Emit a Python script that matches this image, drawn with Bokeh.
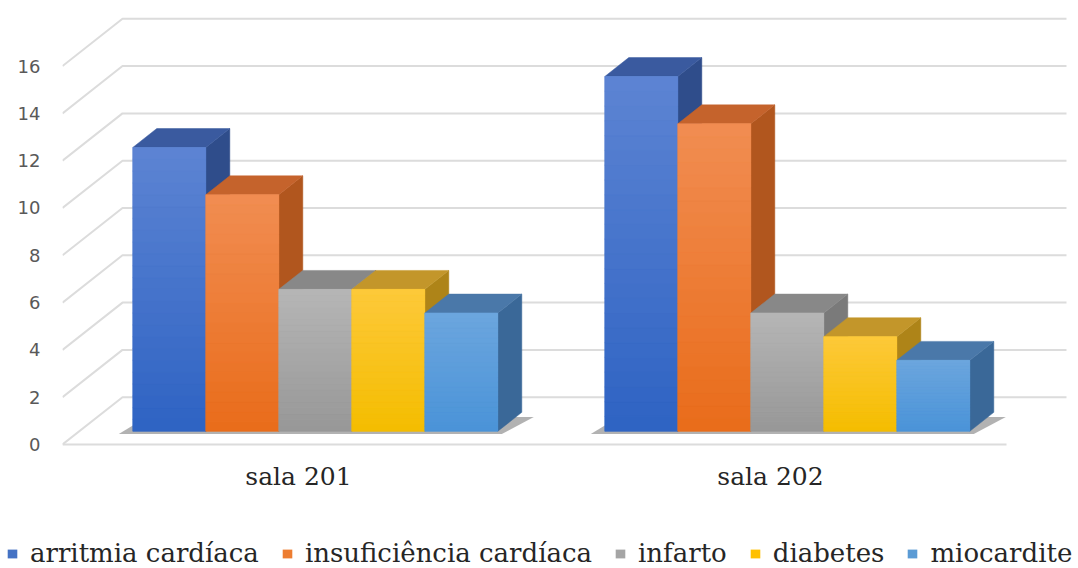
from bokeh.plotting import figure
from bokeh.layouts import column
from bokeh.models import Range1d, FixedTicker, Legend, LegendItem
from bokeh.embed import file_html
from bokeh.resources import INLINE

# ---------------- data ----------------
categories = ["sala 201", "sala 202"]
series = ["arritmia cardíaca", "insuficiência cardíaca", "infarto", "diabetes", "miocardite"]
arritmia = [12, 15]
insuficiencia = [10, 13]
infarto = [6, 5]
diabetes = [6, 4]
miocardite = [5, 3]
values = [arritmia, insuficiencia, infarto, diabetes, miocardite]
y_ticks = [0, 2, 4, 6, 8, 10, 12, 14, 16]

# ---------------- style ----------------
legend_colors = ["#4472C4", "#ED7D31", "#A5A5A5", "#FFC000", "#5B9BD5"]
front_top = ["#5d84d3", "#f18d52", "#b6b6b6", "#fdc93a", "#6ca6de"]
front_bottom = ["#2e63c3", "#e96c1a", "#979797", "#f4bd00", "#4a93d8"]
top_colors = ["#3a5a9f", "#c5632c", "#888888", "#c3962a", "#4a78a9"]
side_colors = ["#2f4d8b", "#b1561e", "#7a7a7a", "#ae8418", "#3a6898"]

FLOOR_W = 944          # width of the floor's front edge (x units = px)
DEPTH_DX = 60          # oblique depth of the floor, x
DEPTH_DY = 2.0         # oblique depth of the floor, value units
BACK_END = FLOOR_W + DEPTH_DX
BAR_W = 73
FRONT_FRAC = 0.28      # bars start this far back on the floor
BAR_FRAC = 0.40        # bar depth as a fraction of floor depth
N_STRIPS = 24

n_cat = len(categories)
n_ser = len(series)
cat_w = FLOOR_W / n_cat
centers = [int(cat_w * (i + 0.5)) for i in range(n_cat)]
off_dx = DEPTH_DX * FRONT_FRAC
off_dy = DEPTH_DY * FRONT_FRAC
bdx = DEPTH_DX * BAR_FRAC
bdy = DEPTH_DY * BAR_FRAC


def hex_to_rgb(h):
    h = h.lstrip("#")
    return tuple(int(h[k:k + 2], 16) for k in (0, 2, 4))


def mix(c1, c2, t):
    a, b = hex_to_rgb(c1), hex_to_rgb(c2)
    return "#%02x%02x%02x" % tuple(round(a[k] + (b[k] - a[k]) * t) for k in range(3))


p = figure(width=1078, height=510,
           x_range=Range1d(0, 1016), y_range=Range1d(-0.465, 18.35),
           output_backend="svg", toolbar_location=None,
           min_border_left=62, min_border_right=0, min_border_top=10, min_border_bottom=55)
p.outline_line_color = None
p.grid.visible = False
p.background_fill_color = "white"
p.frame_align = False

# ---- gridlines: side wall diagonals + back wall horizontals ----
gx, gy = [], []
for t in y_ticks:
    gx.append([0, DEPTH_DX, BACK_END])
    gy.append([t, t + DEPTH_DY, t + DEPTH_DY])
gx.append([0, FLOOR_W])
gy.append([0, 0])
p.multi_line(gx, gy, line_color="#dcdcdc", line_width=2)

# ---- soft shadows on the floor under each group ----
for i in range(n_cat):
    gl = centers[i] - n_ser * BAR_W / 2 + off_dx
    gr = gl + n_ser * BAR_W
    p.patch([gl - 14, gr + 4, gr + bdx + 12, gl + bdx - 10],
            [off_dy - 0.12, off_dy - 0.12, off_dy + bdy - 0.2, off_dy + bdy - 0.2],
            fill_color="#555555", fill_alpha=0.45, line_color=None)

# ---- 3D bars ----
for j in range(n_ser):
    vals = values[j]
    lefts = [centers[i] - n_ser * BAR_W / 2 + j * BAR_W + off_dx for i in range(n_cat)]
    rights = [l + BAR_W for l in lefts]
    bottoms = [off_dy] * n_cat
    tops = [v + off_dy for v in vals]

    # side faces
    p.patches([[r, r, r + bdx, r + bdx] for r in rights],
              [[b, t, t + bdy, b + bdy] for b, t in zip(bottoms, tops)],
              fill_color=side_colors[j], line_color=side_colors[j], line_width=0.5)
    # top faces
    p.patches([[l, r, r + bdx, l + bdx] for l, r in zip(lefts, rights)],
              [[t, t, t + bdy, t + bdy] for t in tops],
              fill_color=top_colors[j], line_color=top_colors[j], line_width=0.5)
    # front faces (solid base)
    p.quad(left=lefts, right=rights, bottom=bottoms, top=tops,
           fill_color=legend_colors[j], line_color=None)
    # vertical gradient on front faces
    sl, sr, sb, st, sc = [], [], [], [], []
    for i in range(n_cat):
        h = tops[i] - bottoms[i]
        for k in range(N_STRIPS):
            sl.append(lefts[i])
            sr.append(rights[i])
            sb.append(bottoms[i] + h * k / N_STRIPS)
            st.append(bottoms[i] + h * (k + 1) / N_STRIPS)
            sc.append(mix(front_bottom[j], front_top[j], (k + 0.5) / N_STRIPS))
    p.quad(left=sl, right=sr, bottom=sb, top=st, fill_color=sc, line_color=sc, line_width=0.6)

# ---- axes ----
p.yaxis.ticker = FixedTicker(ticks=y_ticks)
p.yaxis.axis_line_color = None
p.yaxis.major_tick_line_color = None
p.yaxis.minor_tick_line_color = None
p.yaxis.major_tick_out = 0
p.yaxis.major_label_standoff = 22
p.yaxis.major_label_text_font = "DejaVu Sans"
p.yaxis.major_label_text_font_size = "18px"
p.yaxis.major_label_text_color = "#595959"

p.xaxis.ticker = FixedTicker(ticks=centers)
p.xaxis.major_label_overrides = {c: name for c, name in zip(centers, categories)}
p.xaxis.axis_line_color = None
p.xaxis.major_tick_line_color = None
p.xaxis.minor_tick_line_color = None
p.xaxis.major_tick_out = 0
p.xaxis.major_label_standoff = 6
p.xaxis.major_label_text_font = "DejaVu Serif"
p.xaxis.major_label_text_font_size = "25px"
p.xaxis.major_label_text_color = "#262626"

# ---- legend strip (separate figure below the chart) ----
lp = figure(width=1078, height=58, x_range=Range1d(0, 1), y_range=Range1d(0, 1),
            output_backend="svg", toolbar_location=None,
            x_axis_location=None, y_axis_location=None,
            min_border_left=0, min_border_right=0, min_border_top=0, min_border_bottom=0)
lp.outline_line_color = None
lp.grid.visible = False
lp.frame_align = False
legend_items = []
for j in range(n_ser):
    # swatch renderer (its data lies outside the visible range; only the legend shows it)
    r = lp.quad(left=[5], right=[6], bottom=[5], top=[6],
                fill_color=legend_colors[j], line_color=None)
    legend_items.append(LegendItem(label=series[j], renderers=[r]))
legend = Legend(items=legend_items, orientation="horizontal", location=(6, 0),
                label_text_font="DejaVu Serif", label_text_font_size="26px",
                label_text_color="#262626", glyph_width=12, glyph_height=11,
                label_standoff=12, spacing=22, padding=0, margin=0,
                border_line_color=None, background_fill_alpha=0)
lp.add_layout(legend, "center")

layout = column(p, lp, spacing=0)
open("out.html", "w").write(file_html(layout, INLINE))
